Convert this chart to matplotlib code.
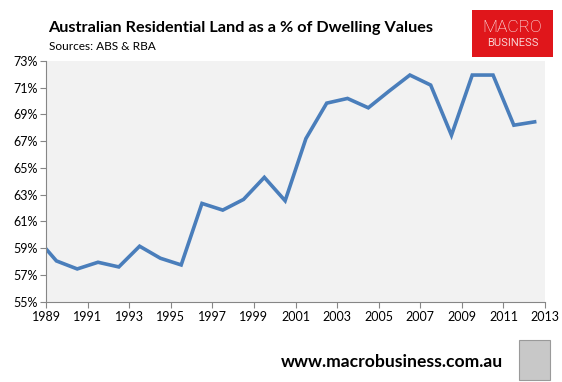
import matplotlib
matplotlib.use('Agg')
import matplotlib.pyplot as plt
from matplotlib.patches import Rectangle
from matplotlib.ticker import FuncFormatter

plt.rcParams['font.family'] = ['Lato', 'DejaVu Sans']

# mid-year readings, first point sits on the 1989 axis edge
years = [1989.0, 1989.5, 1990.5, 1991.5, 1992.5, 1993.5, 1994.5, 1995.5,
         1996.5, 1997.5, 1998.5, 1999.5, 2000.5, 2001.5, 2002.5, 2003.5,
         2004.5, 2005.5, 2006.5, 2007.5, 2008.5, 2009.5, 2010.5, 2011.5, 2012.5]
land_share = [58.95, 58.05, 57.45, 57.95, 57.6, 59.15, 58.25, 57.75,
              62.35, 61.85, 62.65, 64.3, 62.55, 67.2, 69.85, 70.2,
              69.5, 70.75, 71.95, 71.2, 67.45, 71.95, 71.95, 68.2, 68.45]
x_ticks = list(range(1989, 2014, 2))
y_ticks = list(range(55, 74, 2))

fig = plt.figure(figsize=(5.62, 3.82), dpi=100)
ax = fig.add_axes([0.0819, 0.2102, 0.8879, 0.6301])
ax.set_facecolor('#f2f2f2')
ax.plot(years, land_share, color='#4a7ebb', linewidth=2.6, solid_joinstyle='miter')

ax.set_xlim(1989, 2013)
ax.set_ylim(55, 73)
ax.set_xticks(x_ticks)
ax.set_yticks(y_ticks)
ax.yaxis.set_major_formatter(FuncFormatter(lambda v, p: f'{v:.0f}%'))
for s in ['top', 'right']:
    ax.spines[s].set_visible(False)
for s in ['left', 'bottom']:
    ax.spines[s].set_color('#868686')
    ax.spines[s].set_linewidth(0.8)
ax.tick_params(axis='both', colors='#868686', labelcolor='black', labelsize=9, length=4, width=0.8)
ax.tick_params(axis='x', pad=3)
ax.tick_params(axis='y', pad=2)

fig.text(0.085, 0.928, 'Australian Residential Land as a % of Dwelling Values',
         fontsize=11.7, fontweight='bold', va='center')
fig.text(0.087, 0.878, 'Sources: ABS & RBA', fontsize=8.6, va='center')

# logo box
fig.patches.append(Rectangle((472 / 562, 1 - 57 / 382), 81 / 562, 47 / 382,
                             transform=fig.transFigure, facecolor='#e0161b', edgecolor='none'))
fig.text(512.5 / 562, 1 - 28 / 382, 'MACRO', color='white', fontsize=12.5, ha='center', va='center',
         family=['Roboto'], fontweight='light')
fig.text(512.5 / 562, 1 - 43 / 382, 'BUSINESS', color='#f8d0d0', fontsize=8, ha='center', va='center',
         family=['Roboto'])

fig.text(503 / 562, 1 - 362 / 382, 'www.macrobusiness.com.au', fontsize=12.6, fontweight='bold',
         ha='right', va='center')
fig.patches.append(Rectangle((519 / 562, 1 - 380 / 382), 31 / 562, 40 / 382,
                             transform=fig.transFigure, facecolor='#c8c8c8', edgecolor='#9a9a9a',
                             linewidth=0.8))

fig.savefig('out.png', dpi=100)
